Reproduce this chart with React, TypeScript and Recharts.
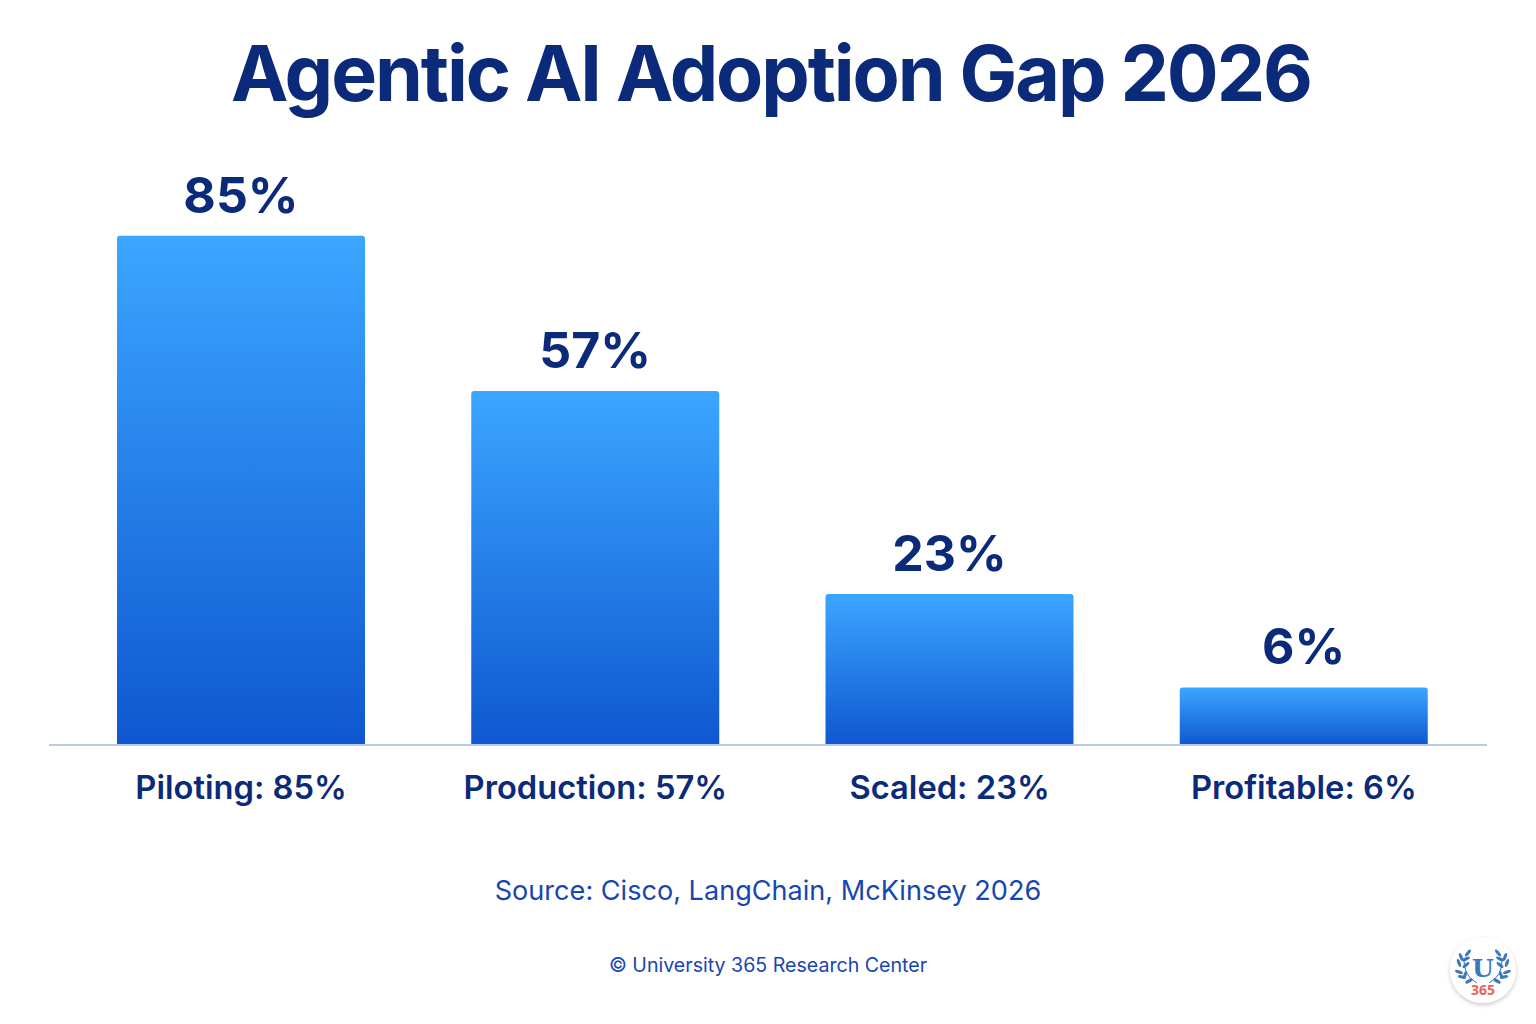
import React from "react";
import { BarChart, Bar, XAxis, YAxis, LabelList, Cell } from "recharts";

// Bar heights are read off the picture; they are not strictly in scale with the printed labels.
const categories = ["Piloting: 85%", "Production: 57%", "Scaled: 23%", "Profitable: 6%"];
const barHeights = [85, 59.1, 25.2, 9.6];
const valueLabels = ["85%", "57%", "23%", "6%"];

const chartData = categories.map((name, i) => ({
  name,
  height: barHeights[i],
  label: valueLabels[i],
}));

const FONT = "Inter, 'Noto Sans', sans-serif";
const NAVY = "#0B2A7A";

const leaves = [
  [-15, -17, -50],
  [-22, -13, 70],
  [-17, -11, -25],
  [-24, -7, 70],
  [-17, -5, -40],
  [-24, 2, 20],
  [-18, 5, -70],
  [-21, 7, 15],
  [-14, 11, -30],
];

const Logo = () => (
  <svg
    width={90}
    height={90}
    viewBox="-45 -45 90 90"
    style={{ position: "absolute", left: 1438, top: 925 }}
  >
    <defs>
      <filter id="logoShadow" x="-30%" y="-30%" width="160%" height="160%">
        <feDropShadow dx="0" dy="2" stdDeviation="2" floodColor="#000" floodOpacity="0.22" />
      </filter>
    </defs>
    <circle r={33} fill="#fff" filter="url(#logoShadow)" />
    {[1, -1].map((side) => (
      <g key={side} transform={`scale(${side},1)`}>
        <path d="M-19,-12 Q-20,6 -6,13" fill="none" stroke="#3B78BD" strokeWidth={1} />
        {leaves.map(([x, y, r], i) => (
          <ellipse
            key={i}
            cx={x}
            cy={y}
            rx={4.2}
            ry={1.6}
            fill="#3B78BD"
            transform={`rotate(${r} ${x} ${y})`}
          />
        ))}
      </g>
    ))}
    <text x={0} y={7} textAnchor="middle" fontFamily="'DejaVu Serif', serif" fontWeight={700} fontSize={25} fill="#3B78BD">
      U
    </text>
    <text x={0} y={25} textAnchor="middle" fontFamily="'Noto Sans', sans-serif" fontWeight={700} fontSize={14} fill="#EE5F5B">
      365
    </text>
  </svg>
);

export default function App() {
  return (
    <div style={{ position: "absolute", left: 0, top: 0, width: 1536, height: 1024, background: "#fff" }}>
      <BarChart
        width={1536}
        height={1024}
        data={chartData}
        margin={{ top: 146, right: 49, bottom: 249, left: 49 }}
      >
        <defs>
          <linearGradient id="barFill" x1="0" y1="0" x2="0" y2="1">
            <stop offset="0%" stopColor="#3BA6FF" />
            <stop offset="100%" stopColor="#0F57D1" />
          </linearGradient>
        </defs>
        <text x={771} y={101} textAnchor="middle" fontFamily={FONT} fontWeight={700} fontSize={77} letterSpacing={-2.1} fill={NAVY}>
          Agentic AI Adoption Gap 2026
        </text>
        <YAxis hide domain={[0, 100]} />
        <XAxis
          dataKey="name"
          padding={{ left: 15, right: 6 }}
          tickLine={false}
          axisLine={{ stroke: "#BCC8E8", strokeWidth: 2 }}
          interval={0}
          tick={{ fontFamily: FONT, fontWeight: 600, fontSize: 32.7, fill: NAVY }}
          tickMargin={25}
        />
        <Bar dataKey="height" barSize={248} radius={[3, 3, 0, 0]} isAnimationActive={false}>
          {chartData.map((d) => (
            <Cell key={d.name} fill="url(#barFill)" />
          ))}
          <LabelList
            dataKey="label"
            position="top"
            offset={23}
            fontFamily={FONT}
            fontWeight={700}
            fontSize={50}
            fill={NAVY}
          />
        </Bar>
        <text x={768} y={900} textAnchor="middle" fontFamily={FONT} fontSize={27.1} fill="#1746B0">
          Source: Cisco, LangChain, McKinsey 2026
        </text>
        <text x={768} y={972} textAnchor="middle" fontFamily={FONT} fontSize={19.6} fill="#1746B0">
          © University 365 Research Center
        </text>
      </BarChart>
      <Logo />
    </div>
  );
}
